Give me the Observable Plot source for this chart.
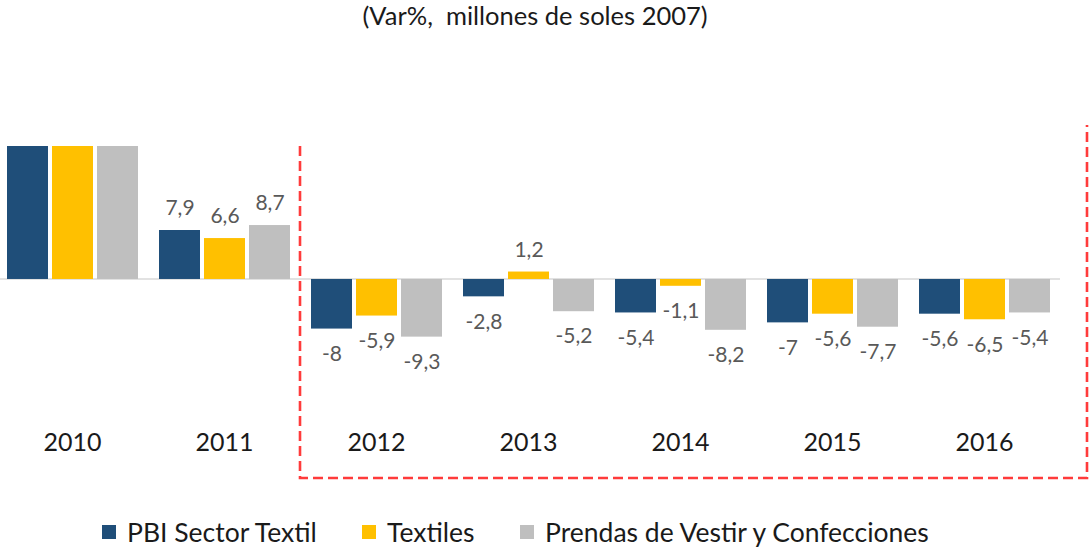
<!DOCTYPE html>
<html>
<head>
<meta charset="utf-8">
<script src="https://cdn.jsdelivr.net/npm/d3@7"></script>
<script src="https://cdn.jsdelivr.net/npm/@observablehq/plot@0.6"></script>
<style>
  html, body { margin: 0; padding: 0; background: #fff; }
  body { width: 1090px; height: 548px; position: relative; overflow: hidden; font-family: Lato, "Open Sans", sans-serif; }
  #title { position: absolute; left: 0; top: 0; width: 1070px; height: 34px; line-height: 30px; text-align: center; font-size: 25.5px; color: #1a1a1a; white-space: pre; }
  #chart { position: absolute; left: 0; top: 34px; }
  #legend { position: absolute; left: 0; top: 517px; width: 1090px; height: 30px; }
  .item { position: absolute; top: 0; height: 30px; display: flex; align-items: center; font-size: 26.5px; color: #1a1a1a; white-space: nowrap; }
  .sw { width: 14px; height: 14px; margin-right: 11px; }
</style>
</head>
<body>
<div id="title">(Var%,  millones de soles 2007)</div>
<div id="chart"></div>
<div id="legend"></div>
<script>
const years = ["2010", "2011", "2012", "2013", "2014", "2015", "2016"];
const series = ["PBI Sector Textil", "Textiles", "Prendas de Vestir y Confecciones"];
// 2010 bars run off the top of the chart (clipped, no labels)
const pbiSectorTextil = [25, 7.9, -8, -2.8, -5.4, -7, -5.6];
const textiles = [25, 6.6, -5.9, 1.2, -1.1, -5.6, -6.5];
const prendasVestir = [25, 8.7, -9.3, -5.2, -8.2, -7.7, -5.4];
const colors = ["#1F4E79", "#FFC000", "#BFBFBF"];
const labeledYears = ["2011", "2012", "2013", "2014", "2015", "2016"];

const valuesBySeries = [pbiSectorTextil, textiles, prendasVestir];
const data = years.flatMap((yr, i) => series.map((s, j) => ({year: yr, series: s, value: valuesBySeries[j][i]})));
const labeled = data.filter(d => labeledYears.includes(d.year));
const fmt = v => String(v).replace(".", ",");

const W = 1090, H = 450;
const marks = [
  Plot.barY(data, {fx: "year", x: "series", y: "value", fill: "series", clip: true}),
  Plot.text(labeled.filter(d => d.value >= 0), {fx: "year", x: "series", y: "value", text: d => fmt(d.value), dy: -22, fill: "#595959", fontSize: 21}),
  Plot.text(labeled.filter(d => d.value < 0), {fx: "year", x: "series", y: "value", text: d => fmt(d.value), dy: 25, fill: "#595959", fontSize: 21})
];
if (Plot.axisFx) marks.push(Plot.axisFx({anchor: "bottom", tickSize: 0, tickPadding: 4, fontSize: 25, fill: "#1a1a1a", label: null}));

const chart = Plot.plot({
  width: W, height: H,
  marginTop: 112, marginBottom: 55, marginLeft: 0, marginRight: 35,
  fx: {domain: years, paddingInner: 0.133, paddingOuter: 0.033, label: null, axis: Plot.axisFx ? null : "bottom", tickSize: 0, tickPadding: 4},
  x: {domain: series, paddingInner: 0.1, paddingOuter: 0, axis: null},
  y: {domain: [-24.2, 21.45], axis: null},
  color: {domain: series, range: colors},
  style: {fontFamily: "Lato, 'Open Sans', sans-serif", background: "#fff", overflow: "visible"},
  marks
});
document.getElementById("chart").appendChild(chart);

// baseline and dashed highlight box, positioned from the plot's scales
const fx = chart.scale("fx"), y = chart.scale("y");
const svg = d3.select(chart);
const y0 = y.apply(0);
const gap = fx.step - fx.bandwidth;
const bandEnd = fx.apply("2016") + fx.bandwidth;
svg.insert("line", ":first-child")
  .attr("x1", 0).attr("x2", bandEnd + 10).attr("y1", y0).attr("y2", y0)
  .attr("stroke", "#D9D9D9").attr("stroke-width", 1.5);
const boxLeft = fx.apply("2012") - gap / 2;
const boxRight = W - 3;
const boxBottom = H - 6;
const yTop = y.range[1];
const dash = {"stroke": "#FF3B3B", "stroke-width": 2.6, "stroke-dasharray": "10,5", "fill": "none"};
const p = svg.append("path")
  .attr("d", `M${boxLeft},${yTop} L${boxLeft},${boxBottom} L${boxRight},${boxBottom} L${boxRight},${yTop - 21}`);
Object.entries(dash).forEach(([k, v]) => p.attr(k, v));

// legend
const lx = [102, 362, 520];
const legend = d3.select("#legend");
series.forEach((s, i) => {
  const it = legend.append("div").attr("class", "item").style("left", lx[i] + "px");
  it.append("div").attr("class", "sw").style("background", colors[i]);
  it.append("span").text(s);
});
</script>
</body>
</html>
